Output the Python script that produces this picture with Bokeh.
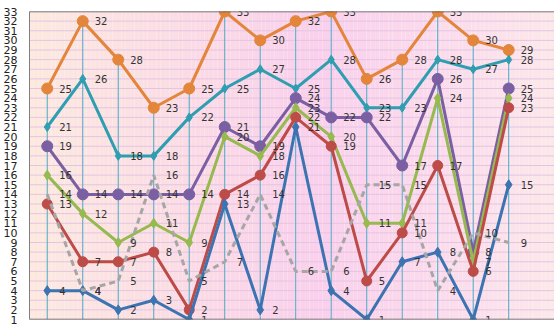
import numpy as np
from bokeh.plotting import figure
from bokeh.models import Range1d, Span, FixedTicker
from bokeh.embed import file_html
from bokeh.resources import INLINE
from bokeh.core.properties import value

# ---- data ----
categories = list(range(1, 15))
orange = [25, 32, 28, 23, 25, 33, 30, 32, 33, 26, 28, 33, 30, 29]
teal = [21, 26, 18, 18, 22, 25, 27, 25, 28, 23, 23, 28, 27, 28]
purple = [19, 14, 14, 14, 14, 21, 19, 24, 22, 22, 17, 26, 8, 25]
green = [16, 12, 9, 11, 9, 20, 18, 23, 20, 11, 11, 24, 7, 24]
red = [13, 7, 7, 8, 2, 14, 16, 22, 19, 5, 10, 17, 6, 23]
blue = [4, 4, 2, 3, 1, 13, 2, 21, 4, 1, 7, 8, 1, 15]
gray = [14, 4, 5, 16, 5, 7, 14, 6, 6, 15, 15, 4, 10, 9]
y_ticks = list(range(1, 34))

x = np.arange(len(categories))
X0, X1 = -0.5, 14.29
Y0, Y1 = 1, 33

p = figure(width=554, height=327, output_backend="svg", toolbar_location=None,
           x_range=Range1d(X0, X1), y_range=Range1d(Y0, Y1))
p.min_border_left = 29
p.min_border_right = 0
p.min_border_top = 11
p.min_border_bottom = 8
p.outline_line_color = None
p.background_fill_color = "white"
p.border_fill_color = "white"
p.xaxis.visible = False
p.xgrid.visible = False
p.ygrid.visible = False

# background gradient (decorative)
n = 120
edges = np.linspace(X0, X1, n + 1)
stops_t = [0.0, 0.25, 0.55, 0.8, 1.0]
stops_c = np.array([[253, 233, 224], [251, 222, 228], [250, 208, 236], [251, 220, 236], [252, 232, 234]])
cols = []
for i in range(n):
    t = (i + 0.5) / n
    c = [np.interp(t, stops_t, stops_c[:, k]) for k in range(3)]
    cols.append("#%02x%02x%02x" % tuple(int(round(v)) for v in c))
p.quad(left=edges[:-1], right=edges[1:], bottom=Y0, top=Y1, fill_color=cols, line_color=None)

# horizontal gridlines
p.segment(x0=[X0] * len(y_ticks), x1=[X1] * len(y_ticks), y0=y_ticks, y1=y_ticks,
          line_color="#e4c4e2", line_width=1)

# drop lines
series = [orange, teal, purple, green, red, blue, gray]
maxv = np.max(np.array(series), axis=0)
p.segment(x0=x, x1=x, y0=[Y0] * len(x), y1=maxv, line_color="#4bacc6", line_width=1)

specs = [
    (orange, "#e3853a", "circle", 11, None),
    (teal, "#2f9eb1", "diamond", 9, None),
    (purple, "#7a5fa3", "circle", 11, None),
    (green, "#96b950", "diamond", 10, None),
    (red, "#bd4b47", "circle", 10, None),
    (blue, "#3c74b2", "diamond", 10, None),
    (gray, "#a6a6a6", None, 0, "6 4"),
]
for vals, col, marker, size, dash in specs:
    if dash:
        p.line(x, vals, line_color=col, line_width=3, line_dash=dash)
    else:
        p.line(x, vals, line_color=col, line_width=3)
    if marker:
        p.scatter(x, vals, marker=marker, size=size, fill_color=col, line_color=col)

for vals, col, marker, size, dash in specs:
    p.text(x, vals, text=[str(v) for v in vals], x_offset=12, text_baseline="middle",
           text_align="left", text_font=value("DejaVu Sans"), text_font_size="10px",
           text_color="#333333")

p.add_layout(Span(location=Y1, dimension="width", line_color="#595959", line_width=1.5))
p.add_layout(Span(location=Y0, dimension="width", line_color="#595959", line_width=1.5))

ya = p.yaxis[0]
ya.ticker = FixedTicker(ticks=y_ticks)
ya.major_tick_line_color = None
ya.minor_tick_line_color = None
ya.axis_line_color = "#808080"
ya.major_label_standoff = 6
ya.major_label_text_font = "DejaVu Sans"
ya.major_label_text_font_size = "11px"
ya.major_label_text_color = "#222222"

open("out.html", "w").write(file_html(p, INLINE))
